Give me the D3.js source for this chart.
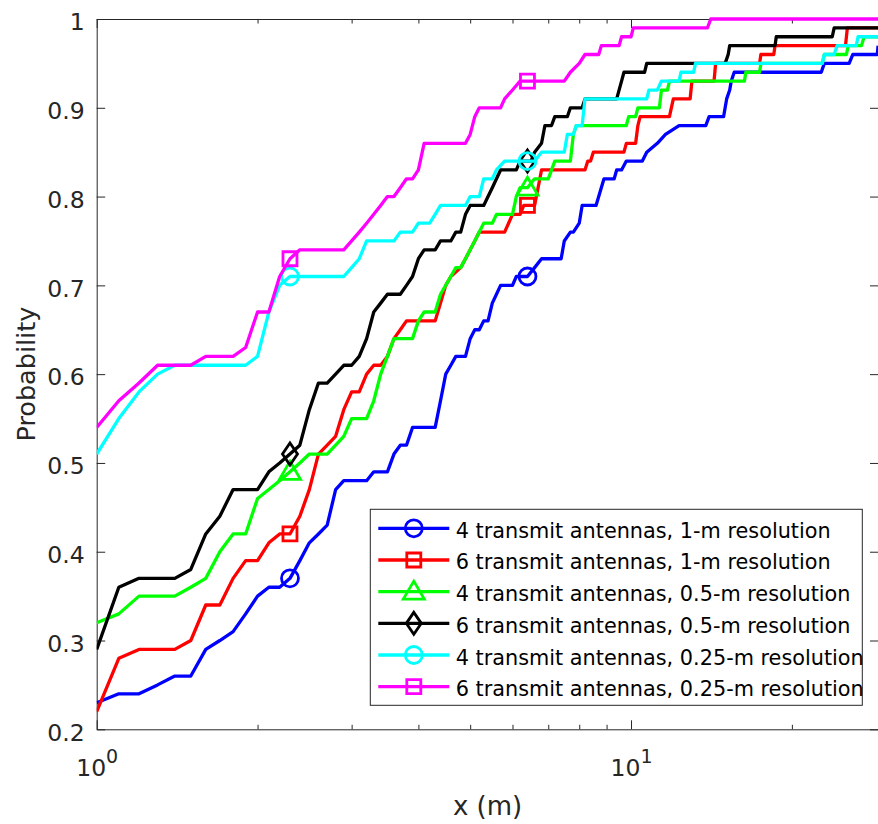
<!DOCTYPE html>
<html><head><meta charset="utf-8">
<script src="https://cdn.jsdelivr.net/npm/d3@7"></script>
<style>body{margin:0;background:#fff}svg{display:block}</style>
</head><body>
<svg id="chart" width="878" height="824"></svg>
<script>
// ---------------- data ----------------
const seriesNames = [
  "4 transmit antennas, 1-m resolution",
  "6 transmit antennas, 1-m resolution",
  "4 transmit antennas, 0.5-m resolution",
  "6 transmit antennas, 0.5-m resolution",
  "4 transmit antennas, 0.25-m resolution",
  "6 transmit antennas, 0.25-m resolution"
];
const seriesColors = ["#0000ff", "#ff0000", "#00ff00", "#000000", "#00ffff", "#ff00ff"];
const seriesMarkers = ["circle", "square", "triangle", "diamond", "circle", "square"];

const tx4_1m = [[1.0,0.23],[1.1,0.24],[1.2,0.24],[1.3,0.25],[1.4,0.26],[1.5,0.26],[1.6,0.29],[1.7,0.30],[1.8,0.31],[1.9,0.33],[2.0,0.35],[2.1,0.36],[2.2,0.36],[2.3,0.37],[2.4,0.39],[2.5,0.41],[2.6,0.42],[2.7,0.43],[2.8,0.47],[2.9,0.48],[3.2,0.48],[3.3,0.49],[3.5,0.49],[3.6,0.51],[3.7,0.52],[3.8,0.52],[3.9,0.54],[4.3,0.54],[4.4,0.57],[4.5,0.60],[4.6,0.61],[4.7,0.62],[4.9,0.62],[5.0,0.64],[5.1,0.65],[5.2,0.65],[5.3,0.66],[5.4,0.66],[5.5,0.68],[5.6,0.69],[5.7,0.70],[6.0,0.70],[6.1,0.71],[6.4,0.71],[6.6,0.72],[6.8,0.73],[7.4,0.73],[7.5,0.75],[7.7,0.76],[7.8,0.76],[8.0,0.77],[8.1,0.79],[8.6,0.79],[8.7,0.80],[8.9,0.82],[9.3,0.82],[9.4,0.83],[9.6,0.83],[9.8,0.84],[10.5,0.84],[10.7,0.85],[11.2,0.86],[11.6,0.87],[12.3,0.88],[13.8,0.88],[14.0,0.89],[14.9,0.89],[15.1,0.91],[15.3,0.92],[15.4,0.93],[15.6,0.94],[22.7,0.94],[23.0,0.95],[25.6,0.95],[26.0,0.96],[28.9,0.96],[29.0,0.97]];
const tx6_1m = [[1.0,0.22],[1.1,0.28],[1.2,0.29],[1.4,0.29],[1.5,0.30],[1.6,0.34],[1.7,0.34],[1.8,0.37],[1.9,0.39],[2.0,0.39],[2.1,0.41],[2.2,0.42],[2.3,0.42],[2.4,0.44],[2.5,0.47],[2.6,0.51],[2.7,0.52],[2.8,0.53],[2.9,0.56],[3.0,0.58],[3.1,0.58],[3.2,0.60],[3.3,0.61],[3.4,0.61],[3.5,0.62],[3.6,0.64],[3.7,0.65],[3.8,0.66],[4.3,0.66],[4.4,0.68],[4.5,0.70],[4.6,0.71],[4.8,0.72],[4.9,0.73],[5.0,0.74],[5.1,0.75],[5.2,0.76],[5.8,0.76],[5.9,0.77],[6.0,0.78],[6.2,0.78],[6.3,0.79],[6.6,0.79],[6.7,0.81],[6.8,0.83],[8.2,0.83],[8.3,0.84],[8.4,0.84],[8.5,0.85],[9.7,0.85],[9.8,0.86],[10.2,0.86],[10.3,0.88],[10.4,0.89],[11.8,0.89],[12.0,0.91],[12.9,0.91],[13.0,0.93],[14.3,0.93],[14.4,0.95],[17.4,0.95],[17.5,0.96],[18.5,0.96],[18.6,0.97],[25.2,0.97],[25.4,0.99],[29.0,0.99]];
const tx4_05m = [[1.0,0.32],[1.1,0.33],[1.2,0.35],[1.4,0.35],[1.5,0.36],[1.6,0.37],[1.7,0.40],[1.8,0.42],[1.9,0.42],[2.0,0.46],[2.1,0.47],[2.2,0.48],[2.3,0.49],[2.4,0.50],[2.5,0.51],[2.7,0.51],[2.8,0.52],[2.9,0.53],[3.0,0.55],[3.2,0.55],[3.3,0.57],[3.4,0.60],[3.5,0.62],[3.6,0.64],[3.9,0.64],[4.0,0.66],[4.1,0.67],[4.3,0.67],[4.4,0.69],[4.5,0.70],[4.6,0.71],[4.7,0.72],[4.8,0.72],[4.9,0.73],[5.0,0.74],[5.1,0.75],[5.2,0.76],[5.3,0.77],[5.5,0.77],[5.6,0.78],[6.0,0.78],[6.1,0.80],[6.2,0.81],[6.4,0.81],[6.6,0.82],[7.0,0.82],[7.1,0.83],[7.2,0.84],[7.7,0.84],[7.8,0.87],[7.9,0.88],[9.8,0.88],[9.9,0.89],[10.2,0.89],[10.3,0.90],[11.3,0.90],[11.4,0.92],[11.7,0.92],[11.8,0.93],[16.3,0.93],[16.4,0.94],[17.4,0.94],[17.5,0.95],[22.8,0.95],[23.0,0.96],[25.3,0.96],[25.5,0.97],[27.0,0.97],[27.3,0.98],[29.0,0.98]];
const tx6_05m = [[1.0,0.29],[1.1,0.36],[1.2,0.37],[1.4,0.37],[1.5,0.38],[1.6,0.42],[1.7,0.44],[1.8,0.47],[2.0,0.47],[2.1,0.49],[2.2,0.50],[2.3,0.51],[2.4,0.52],[2.5,0.56],[2.6,0.59],[2.7,0.59],[2.8,0.60],[2.9,0.61],[3.0,0.61],[3.1,0.62],[3.2,0.64],[3.3,0.67],[3.4,0.68],[3.5,0.69],[3.7,0.69],[3.8,0.70],[3.9,0.71],[4.0,0.73],[4.1,0.74],[4.3,0.74],[4.4,0.75],[4.6,0.75],[4.7,0.76],[4.8,0.76],[4.9,0.78],[5.0,0.79],[5.3,0.79],[5.4,0.80],[5.5,0.81],[5.6,0.82],[5.7,0.83],[6.1,0.83],[6.2,0.84],[6.5,0.84],[6.6,0.85],[6.8,0.86],[6.9,0.88],[7.1,0.88],[7.2,0.89],[7.6,0.89],[7.7,0.90],[8.1,0.90],[8.2,0.91],[9.4,0.91],[9.6,0.93],[9.7,0.94],[10.6,0.94],[10.7,0.95],[15.0,0.95],[15.2,0.96],[15.3,0.97],[18.6,0.97],[18.7,0.98],[23.8,0.98],[24.0,0.99],[29.0,0.99]];
const tx4_025m = [[1.0,0.51],[1.1,0.55],[1.2,0.58],[1.3,0.60],[1.4,0.61],[1.9,0.61],[2.0,0.62],[2.1,0.67],[2.2,0.70],[2.3,0.71],[2.9,0.71],[3.0,0.72],[3.1,0.73],[3.2,0.75],[3.6,0.75],[3.7,0.76],[3.9,0.76],[4.0,0.77],[4.2,0.77],[4.3,0.78],[4.4,0.79],[4.9,0.79],[5.0,0.80],[5.2,0.80],[5.3,0.82],[5.5,0.82],[5.6,0.83],[5.8,0.84],[6.6,0.84],[6.8,0.85],[7.5,0.85],[7.6,0.87],[7.8,0.87],[7.9,0.88],[8.1,0.88],[8.2,0.91],[10.7,0.91],[10.8,0.92],[11.2,0.92],[11.4,0.93],[12.3,0.93],[12.4,0.94],[13.1,0.94],[13.2,0.95],[22.8,0.95],[23.0,0.96],[24.0,0.96],[24.3,0.97],[26.4,0.97],[26.6,0.98],[29.0,0.98]];
const tx6_025m = [[1.0,0.54],[1.1,0.57],[1.2,0.59],[1.3,0.61],[1.5,0.61],[1.6,0.62],[1.8,0.62],[1.9,0.63],[2.0,0.67],[2.1,0.67],[2.2,0.71],[2.3,0.73],[2.4,0.74],[2.9,0.74],[3.0,0.75],[3.1,0.76],[3.2,0.77],[3.3,0.78],[3.4,0.79],[3.5,0.80],[3.6,0.80],[3.7,0.81],[3.8,0.82],[3.9,0.82],[4.0,0.83],[4.1,0.86],[4.9,0.86],[5.0,0.87],[5.1,0.89],[5.2,0.90],[5.7,0.90],[5.8,0.91],[6.0,0.92],[6.2,0.93],[7.5,0.93],[7.7,0.94],[8.0,0.95],[8.2,0.96],[8.7,0.96],[8.8,0.97],[9.5,0.97],[9.6,0.98],[10.0,0.98],[10.1,0.99],[13.9,0.99],[14.1,1.0],[29.0,1.0]];

const seriesData = [tx4_1m, tx6_1m, tx4_05m, tx6_05m, tx4_025m, tx6_025m];
const markerX = [2.3, 6.4];

const yTicks = [0.2, 0.3, 0.4, 0.5, 0.6, 0.7, 0.8, 0.9, 1.0];
const yTickLabels = ["0.2", "0.3", "0.4", "0.5", "0.6", "0.7", "0.8", "0.9", "1"];
const xMajorTicks = [1, 10];
const xMajorExponents = ["0", "1"];
const xMinorTicks = [2, 3, 4, 5, 6, 7, 8, 9, 20];
const xLabel = "x (m)";
const yLabel = "Probability";

// ---------------- layout ----------------
const L = 96.7, R = 878.5, T = 19, B = 729.3;
const axisColor = "#262626";
const FONT = "'DejaVu Sans', Verdana, sans-serif";

const svg = d3.select("#chart");
svg.append("rect").attr("width", 878).attr("height", 824).attr("fill", "#fff");

const x = d3.scaleLog().domain([1, 29.05]).range([L, R]);
const y = d3.scaleLinear().domain([0.2, 1]).range([B, T]);

svg.append("clipPath").attr("id", "plotclip")
  .append("rect").attr("x", L).attr("y", T - 2).attr("width", R - L).attr("height", B - T + 4);

function styleAxis(g) {
  g.selectAll("path.domain").attr("stroke", axisColor).attr("stroke-width", 1);
  g.selectAll(".tick line").attr("stroke", axisColor).attr("stroke-width", 1);
  g.selectAll("text").attr("fill", axisColor).style("font-family", FONT).style("font-size", "23.5px");
}

// left axis with labels
const gLeft = svg.append("g").attr("transform", `translate(${L},0)`)
  .call(d3.axisLeft(y).tickValues(yTicks).tickFormat(d => yTickLabels[yTicks.indexOf(d)])
    .tickSizeInner(-8.5).tickSizeOuter(0).tickPadding(12));
styleAxis(gLeft);
gLeft.selectAll("text").attr("dy", "0.46em");

// right axis (mirror)
const gRight = svg.append("g").attr("transform", `translate(${R},0)`)
  .call(d3.axisRight(y).tickValues(yTicks).tickFormat("").tickSizeInner(-8.5).tickSizeOuter(0));
styleAxis(gRight);

// bottom axis major
const gBottom = svg.append("g").attr("transform", `translate(0,${B})`)
  .call(d3.axisBottom(x).tickValues(xMajorTicks).tickFormat("").tickSizeInner(-9).tickSizeOuter(0));
styleAxis(gBottom);
gBottom.selectAll(".tick text").remove();
gBottom.selectAll(".tick").each(function(d) {
  const i = xMajorTicks.indexOf(d);
  const t = d3.select(this).append("text")
    .attr("text-anchor", "middle").attr("y", 47).attr("fill", axisColor)
    .style("font-family", FONT).style("font-size", "23.5px");
  t.append("tspan").text("10");
  t.append("tspan").attr("dy", -13).style("font-size", "19px").text(xMajorExponents[i]);
});
// bottom axis minor
const gBottomMinor = svg.append("g").attr("transform", `translate(0,${B})`)
  .call(d3.axisBottom(x).tickValues(xMinorTicks).tickFormat("").tickSizeInner(-4.5).tickSizeOuter(0));
styleAxis(gBottomMinor);
gBottomMinor.select("path.domain").remove();

// top axis (mirror)
const gTop = svg.append("g").attr("transform", `translate(0,${T})`)
  .call(d3.axisTop(x).tickValues(xMajorTicks).tickFormat("").tickSizeInner(-9).tickSizeOuter(0));
styleAxis(gTop);
const gTopMinor = svg.append("g").attr("transform", `translate(0,${T})`)
  .call(d3.axisTop(x).tickValues(xMinorTicks).tickFormat("").tickSizeInner(-4.5).tickSizeOuter(0));
styleAxis(gTopMinor);
gTopMinor.select("path.domain").remove();

// axis labels
svg.append("text").attr("x", (L + R) / 2).attr("y", 815).attr("text-anchor", "middle")
  .attr("fill", axisColor).style("font-family", FONT).style("font-size", "26px").text(xLabel);
svg.append("text").attr("transform", `translate(35,${(T + B) / 2}) rotate(-90)`).attr("text-anchor", "middle")
  .attr("fill", axisColor).style("font-family", FONT).style("font-size", "25.5px").text(yLabel);

// ---------------- markers ----------------
function markerPath(type) {
  const p = d3.path();
  if (type === "circle") { p.moveTo(8.5, 0); p.arc(0, 0, 8.5, 0, 2 * Math.PI); }
  else if (type === "square") { p.rect(-7, -7, 14, 14); }
  else if (type === "triangle") { p.moveTo(0, -10.5); p.lineTo(10.5, 7.5); p.lineTo(-10.5, 7.5); p.closePath(); }
  else if (type === "diamond") { p.moveTo(0, -11); p.lineTo(7.5, 0); p.lineTo(0, 11); p.lineTo(-7.5, 0); p.closePath(); }
  return p.toString();
}
function valueAt(data, xv) {
  for (let i = 0; i < data.length; i++) {
    if (Math.abs(data[i][0] - xv) < 1e-9) return data[i][1];
    if (i > 0 && data[i - 1][0] < xv && data[i][0] > xv) {
      const t = (Math.log(xv) - Math.log(data[i - 1][0])) / (Math.log(data[i][0]) - Math.log(data[i - 1][0]));
      return data[i - 1][1] + t * (data[i][1] - data[i - 1][1]);
    }
  }
  return data[data.length - 1][1];
}

// ---------------- lines ----------------
const line = d3.line().x(d => x(d[0])).y(d => y(d[1]));
const plot = svg.append("g").attr("clip-path", "url(#plotclip)");
seriesData.forEach((data, k) => {
  plot.append("path").datum(data).attr("d", line)
    .attr("fill", "none").attr("stroke", seriesColors[k]).attr("stroke-width", 3.3)
    .attr("stroke-linejoin", "round").attr("stroke-linecap", "butt");
  plot.selectAll(null).data(markerX).enter().append("path")
    .attr("d", markerPath(seriesMarkers[k]))
    .attr("transform", d => `translate(${x(d)},${y(valueAt(data, d))})`)
    .attr("fill", "none").attr("stroke", seriesColors[k]).attr("stroke-width", 2.8);
});

// ---------------- legend ----------------
const lg = svg.append("g");
const lgX = 370.3, lgY = 509.3, lgW = 492, lgH = 196;
lg.append("rect").attr("x", lgX).attr("y", lgY).attr("width", lgW).attr("height", lgH)
  .attr("fill", "#fff").attr("stroke", axisColor).attr("stroke-width", 1);
seriesNames.forEach((name, k) => {
  const cy = 528.3 + k * 31.68;
  lg.append("line").attr("x1", 378.3).attr("x2", 449.3).attr("y1", cy).attr("y2", cy)
    .attr("stroke", seriesColors[k]).attr("stroke-width", 3.3);
  lg.append("path").attr("d", markerPath(seriesMarkers[k]))
    .attr("transform", `translate(413.8,${cy})`)
    .attr("fill", "none").attr("stroke", seriesColors[k]).attr("stroke-width", 2.8);
  lg.append("text").attr("x", 455.7).attr("y", cy + 9.5).attr("fill", "#000")
    .style("font-family", FONT).style("font-size", "20.8px").text(name);
});
</script>
</body></html>
